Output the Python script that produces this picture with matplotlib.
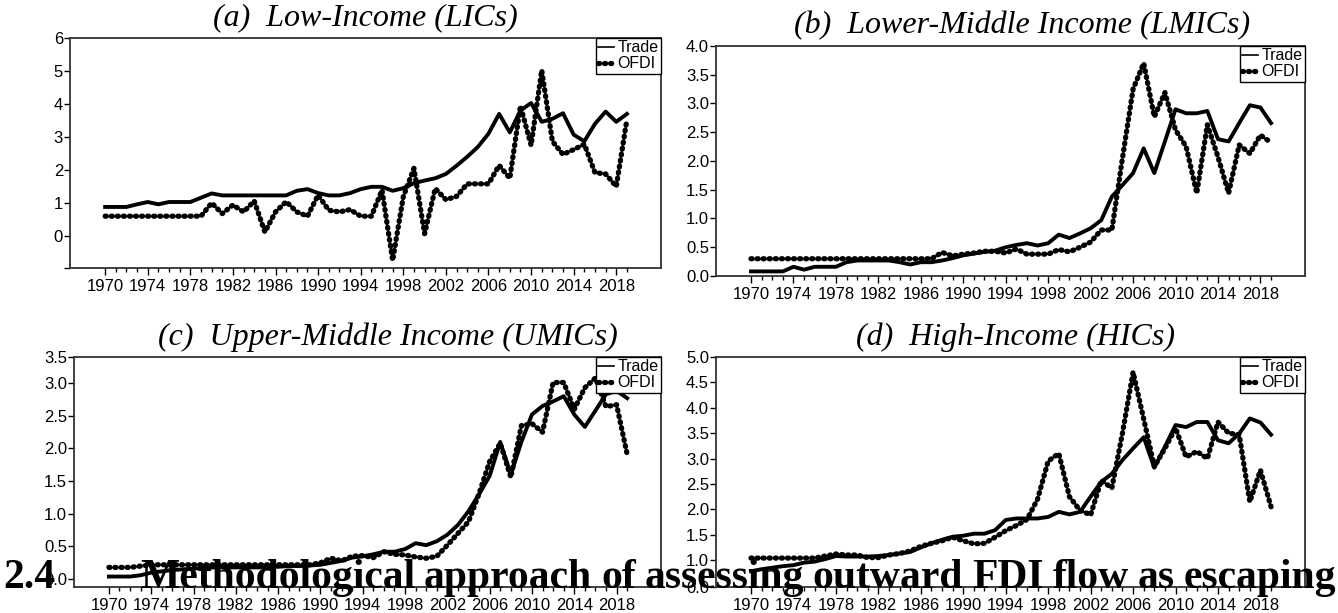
import matplotlib
matplotlib.use("Agg")
import matplotlib.pyplot as plt
from matplotlib.lines import Line2D
from matplotlib.ticker import FixedLocator

years = list(range(1970, 2020))
year_labels = list(range(1970, 2019, 4))

# Low-income countries
lic_trade = [0.88, 0.88, 0.88, 0.96, 1.03, 0.96, 1.03, 1.03, 1.03, 1.16,
             1.29, 1.23, 1.23, 1.23, 1.23, 1.23, 1.23, 1.23, 1.37, 1.42,
             1.30, 1.23, 1.23, 1.30, 1.42, 1.49, 1.49, 1.37, 1.45, 1.60,
             1.68, 1.75, 1.88, 2.13, 2.40, 2.70, 3.10, 3.70, 3.14, 3.80,
             4.03, 3.46, 3.55, 3.72, 3.07, 2.87, 3.40, 3.77, 3.46, 3.70]
lic_ofdi = [0.60, 0.60, 0.60, 0.60, 0.60, 0.60, 0.60, 0.60, 0.60, 0.60,
            1.00, 0.68, 0.94, 0.73, 1.06, 0.12, 0.73, 1.04, 0.73, 0.60,
            1.24, 0.78, 0.73, 0.80, 0.60, 0.60, 1.39, -0.74, 1.19, 2.05,
            0.07, 1.44, 1.10, 1.20, 1.58, 1.58, 1.58, 2.14, 1.75, 3.94,
            2.75, 5.02, 2.87, 2.47, 2.62, 2.78, 1.92, 1.88, 1.50, 3.53]

# Lower-middle income countries
lmic_trade = [0.08, 0.08, 0.08, 0.08, 0.16, 0.11, 0.16, 0.16, 0.16, 0.24,
              0.27, 0.27, 0.27, 0.27, 0.24, 0.20, 0.24, 0.24, 0.27, 0.31,
              0.36, 0.39, 0.42, 0.44, 0.50, 0.54, 0.57, 0.53, 0.57, 0.72,
              0.66, 0.74, 0.83, 0.97, 1.38, 1.58, 1.79, 2.22, 1.79, 2.34,
              2.90, 2.83, 2.83, 2.87, 2.38, 2.34, 2.66, 2.97, 2.93, 2.66]
lmic_ofdi = [0.30, 0.30, 0.30, 0.30, 0.30, 0.30, 0.30, 0.30, 0.30, 0.30,
             0.30, 0.30, 0.30, 0.30, 0.30, 0.30, 0.30, 0.30, 0.41, 0.35,
             0.38, 0.40, 0.43, 0.43, 0.40, 0.47, 0.38, 0.38, 0.38, 0.46,
             0.42, 0.50, 0.59, 0.80, 0.80, 2.05, 3.25, 3.70, 2.77, 3.19,
             2.54, 2.25, 1.44, 2.63, 2.07, 1.44, 2.28, 2.13, 2.45, 2.32]

# Upper-middle income countries
umic_trade = [0.04, 0.04, 0.04, 0.06, 0.10, 0.12, 0.14, 0.15, 0.16, 0.17,
              0.18, 0.18, 0.18, 0.18, 0.18, 0.18, 0.19, 0.20, 0.20, 0.21,
              0.22, 0.25, 0.28, 0.33, 0.35, 0.38, 0.42, 0.42, 0.46, 0.55,
              0.52, 0.58, 0.68, 0.83, 1.04, 1.30, 1.58, 2.10, 1.60, 2.10,
              2.52, 2.65, 2.72, 2.80, 2.52, 2.33, 2.58, 2.83, 2.88, 2.77]
umic_ofdi = [0.18, 0.18, 0.18, 0.20, 0.22, 0.22, 0.22, 0.22, 0.22, 0.22,
             0.22, 0.22, 0.22, 0.22, 0.22, 0.22, 0.22, 0.22, 0.22, 0.22,
             0.25, 0.32, 0.28, 0.35, 0.36, 0.33, 0.42, 0.38, 0.37, 0.34,
             0.32, 0.35, 0.52, 0.70, 0.88, 1.31, 1.80, 2.08, 1.56, 2.35,
             2.38, 2.25, 3.01, 3.01, 2.60, 2.93, 3.08, 2.64, 2.67, 1.91]

# High-income countries
hic_trade = [0.78, 0.82, 0.85, 0.88, 0.90, 0.95, 0.97, 1.02, 1.08, 1.07,
             1.07, 1.07, 1.08, 1.10, 1.13, 1.16, 1.25, 1.33, 1.40, 1.46,
             1.48, 1.52, 1.52, 1.59, 1.79, 1.82, 1.82, 1.82, 1.85, 1.95,
             1.90, 1.95, 2.25, 2.54, 2.70, 2.97, 3.20, 3.42, 2.82, 3.23,
             3.66, 3.62, 3.72, 3.72, 3.36, 3.30, 3.49, 3.79, 3.71, 3.47]
hic_ofdi = [1.04, 1.04, 1.04, 1.04, 1.04, 1.04, 1.04, 1.08, 1.12, 1.10,
            1.10, 1.05, 1.05, 1.10, 1.13, 1.18, 1.27, 1.33, 1.38, 1.45,
            1.38, 1.32, 1.33, 1.45, 1.58, 1.68, 1.80, 2.20, 2.95, 3.10,
            2.25, 1.98, 1.89, 2.57, 2.42, 3.50, 4.70, 3.78, 2.84, 3.20,
            3.60, 3.03, 3.14, 3.00, 3.72, 3.50, 3.47, 2.15, 2.77, 2.05]

W, H = 1338, 613
fig = plt.figure(figsize=(W / 100, H / 100), dpi=100)
fig.patch.set_facecolor("white")

SANS = "Liberation Sans"
SERIF = "Liberation Serif"


def px_rect(left, top, right, bottom):
    return [left / W, 1 - bottom / H, (right - left) / W, (bottom - top) / H]


def fmt(values):
    return ["%.1f" % v for v in values]


panels = [
    dict(title="(a)  Low-Income (LICs)", rect=px_rect(70, 38, 661, 268),
         trade=lic_trade, ofdi=lic_ofdi, ylim=(-0.97, 6.0), tx=0.5,
         yticks=[-0.97, 0, 1, 2, 3, 4, 5, 6],
         ylabels=["", "0", "1", "2", "3", "4", "5", "6"]),
    dict(title="(b)  Lower-Middle Income (LMICs)", rect=px_rect(716, 46, 1305, 276),
         trade=lmic_trade, ofdi=lmic_ofdi, ylim=(0.0, 4.0), tx=0.52,
         yticks=[0, 0.5, 1, 1.5, 2, 2.5, 3, 3.5, 4],
         ylabels=fmt([0, 0.5, 1, 1.5, 2, 2.5, 3, 3.5, 4])),
    dict(title="(c)  Upper-Middle Income (UMICs)", rect=px_rect(74, 357, 661, 587),
         trade=umic_trade, ofdi=umic_ofdi, ylim=(-0.12, 3.4), tx=0.535,
         yticks=[0, 0.5, 1, 1.5, 2, 2.5, 3, 3.4],
         ylabels=fmt([0, 0.5, 1, 1.5, 2, 2.5, 3, 3.5])),
    dict(title="(d)  High-Income (HICs)", rect=px_rect(716, 357, 1305, 587),
         trade=hic_trade, ofdi=hic_ofdi, ylim=(0.47, 5.0), tx=0.508,
         yticks=[0.47, 1, 1.5, 2, 2.5, 3, 3.5, 4, 4.5, 5],
         ylabels=fmt([0, 1, 1.5, 2, 2.5, 3, 3.5, 4, 4.5, 5])),
]

ofdi_style = dict(color="black", lw=3.8, dashes=(0.2, 0.95),
                  dash_capstyle="round", solid_capstyle="round")

for p in panels:
    ax = fig.add_axes(p["rect"])
    ax.plot(years, p["trade"], color="black", lw=2.8, solid_joinstyle="round")
    ax.plot(years, p["ofdi"], **ofdi_style)

    ax.set_xlim(1966.7, 2022.2)
    ax.set_ylim(*p["ylim"])

    ax.xaxis.set_major_locator(FixedLocator(year_labels))
    ax.xaxis.set_minor_locator(FixedLocator(years))
    ax.set_xticklabels([str(y) for y in year_labels])
    ax.yaxis.set_major_locator(FixedLocator(p["yticks"]))
    ax.set_yticklabels(p["ylabels"])

    ax.tick_params(axis="x", which="major", length=5, width=1, pad=3,
                   labelsize=12, direction="out")
    ax.tick_params(axis="x", which="minor", length=3, width=1, direction="out")
    ax.tick_params(axis="y", length=4, width=1, pad=1, labelsize=12,
                   direction="out")
    for lab in ax.get_xticklabels() + ax.get_yticklabels():
        lab.set_fontfamily(SANS)

    for s in ax.spines.values():
        s.set_color("#333333")
        s.set_linewidth(1.3)

    ax.set_title(p["title"], x=p["tx"], pad=9, fontsize=23,
                 fontfamily=SERIF, fontstyle="italic")

    handles = [Line2D([], [], color="black", lw=1.2),
               Line2D([], [], **ofdi_style)]
    leg = ax.legend(handles, ["Trade", "OFDI"], loc="upper right",
                    bbox_to_anchor=(1.0, 1.0), borderaxespad=0.0,
                    handlelength=1.0, handletextpad=0.2, borderpad=0.15,
                    labelspacing=0.05, fancybox=False, framealpha=1,
                    edgecolor="black", prop=dict(family=SANS, size=11.5))
    leg.get_frame().set_linewidth(1.0)

# section heading running across the bottom of the page
base_y = 1 - 588 / H
fig.text(3 / W, base_y, "2.4", fontfamily=SERIF, fontweight="bold",
         fontsize=30, va="baseline", ha="left", zorder=10)

words = ["Methodological", "approach", "of", "assessing", "outward",
         "FDI", "flow", "as", "escaping"]
word_texts = [fig.text(0, base_y, w, fontfamily=SERIF, fontweight="bold",
                       fontsize=30, va="baseline", ha="left", zorder=10)
              for w in words]
renderer = fig.canvas.get_renderer()
widths = [t.get_window_extent(renderer).width for t in word_texts]
x0, x1 = 140, 1336
gap = (x1 - x0 - sum(widths)) / (len(words) - 1)
x = x0
for t, w in zip(word_texts, widths):
    t.set_x(x / W)
    x += w + gap

fig.savefig("out.png", dpi=100, facecolor="white")
